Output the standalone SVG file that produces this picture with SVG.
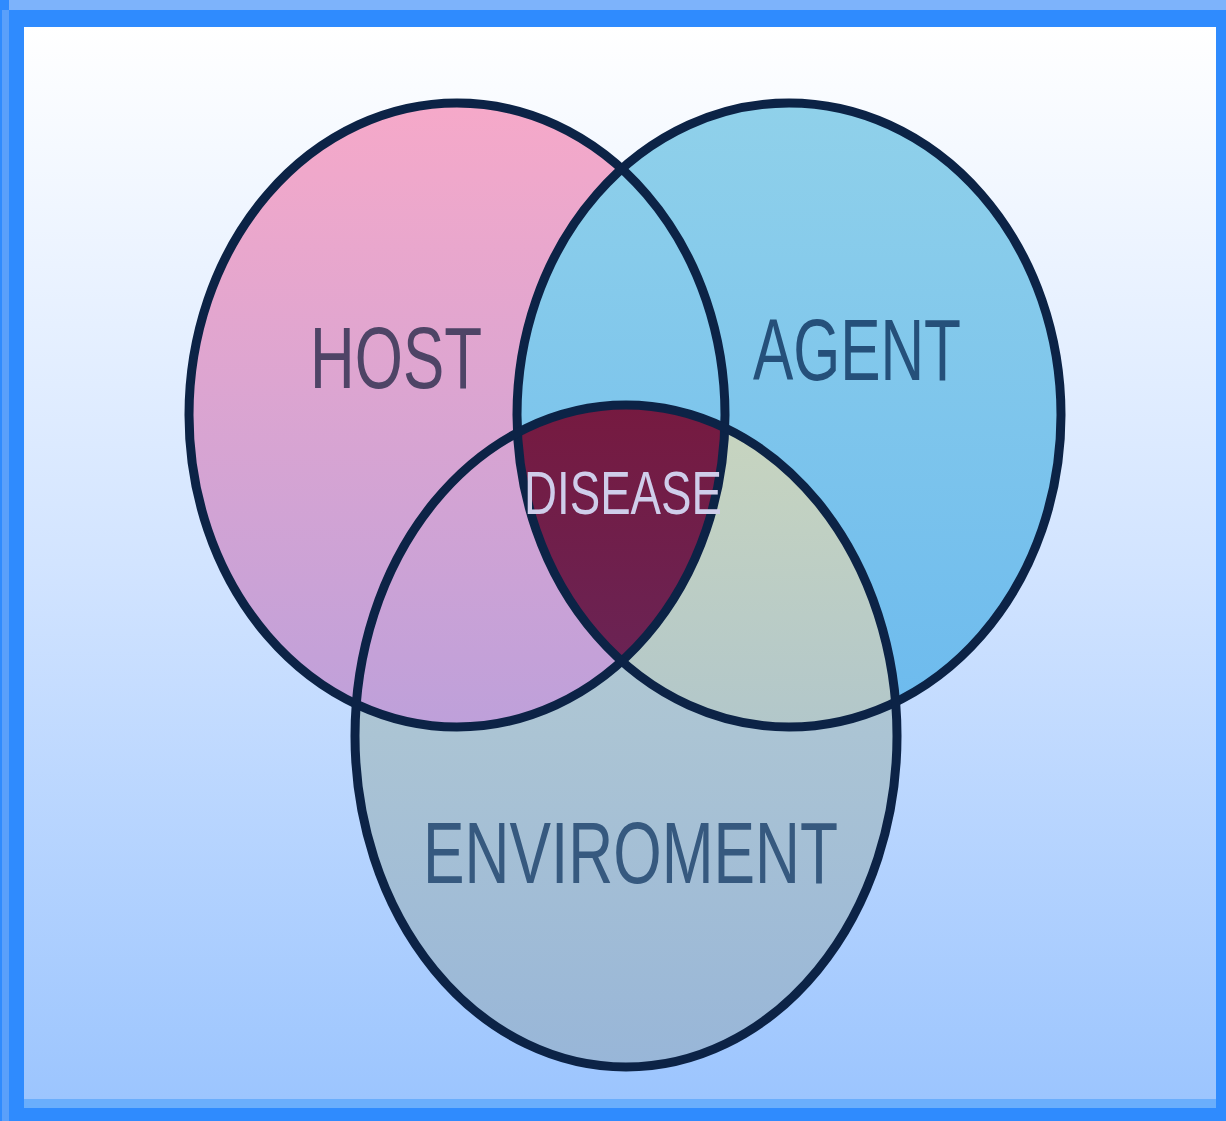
<svg xmlns="http://www.w3.org/2000/svg" width="1226" height="1121" viewBox="0 0 1226 1121">
  <defs>
    <linearGradient id="bg" x1="0" y1="27" x2="0" y2="1099" gradientUnits="userSpaceOnUse">
      <stop offset="0" stop-color="#ffffff"/>
      <stop offset="0.5" stop-color="#d2e4ff"/>
      <stop offset="1" stop-color="#9cc5fe"/>
    </linearGradient>
    <linearGradient id="gHost" x1="0" y1="103" x2="0" y2="726" gradientUnits="userSpaceOnUse">
      <stop offset="0" stop-color="#f6a9c9"/>
      <stop offset="1" stop-color="#bea0da"/>
    </linearGradient>
    <linearGradient id="gAgent" x1="0" y1="103" x2="0" y2="726" gradientUnits="userSpaceOnUse">
      <stop offset="0" stop-color="#90d1ea"/>
      <stop offset="1" stop-color="#6cbaee"/>
    </linearGradient>
    <linearGradient id="gEnv" x1="0" y1="405" x2="0" y2="1066" gradientUnits="userSpaceOnUse">
      <stop offset="0" stop-color="#bed2d0"/>
      <stop offset="1" stop-color="#98b6d8"/>
    </linearGradient>
    <linearGradient id="gAgentEnv" x1="0" y1="420" x2="0" y2="726" gradientUnits="userSpaceOnUse">
      <stop offset="0" stop-color="#c8d5bf"/>
      <stop offset="1" stop-color="#b2c7ca"/>
    </linearGradient>
    <linearGradient id="gDisease" x1="0" y1="405" x2="0" y2="660" gradientUnits="userSpaceOnUse">
      <stop offset="0" stop-color="#761a40"/>
      <stop offset="1" stop-color="#6a2354"/>
    </linearGradient>
    <ellipse id="host" cx="457" cy="415" rx="268" ry="312"/>
    <ellipse id="agent" cx="789" cy="415" rx="272" ry="312"/>
    <ellipse id="env" cx="626" cy="736" rx="271" ry="331"/>
    <clipPath id="clipEnv"><use href="#env"/></clipPath>
    <clipPath id="clipAgent"><use href="#agent"/></clipPath>
    <style>
      .ring { fill: none; stroke: #0c2346; stroke-width: 9; }
      .label { font-family: "Liberation Sans", Arial, sans-serif; }
    </style>
  </defs>

  <!-- frame -->
  <rect x="0" y="0" width="1226" height="1121" fill="#2f8bfe"/>
  <rect x="9" y="0" width="1217" height="10" fill="#7db3fb"/>
  <rect x="2" y="10" width="7" height="1111" fill="#5aa0fb"/>
  <rect x="24" y="27" width="1192" height="1072" fill="url(#bg)"/>
  <rect x="24" y="1099" width="1192" height="9" fill="#6aaefc"/>

  <!-- filled regions -->
  <g id="node-host">
    <use href="#host" fill="url(#gHost)"/>
  </g>
  <g id="node-agent">
    <use href="#agent" fill="url(#gAgent)"/>
  </g>
  <g id="node-environment">
    <use href="#env" fill="url(#gEnv)"/>
    <g clip-path="url(#clipEnv)">
      <use href="#host" fill="url(#gHost)"/>
      <use href="#agent" fill="url(#gAgentEnv)"/>
    </g>
  </g>
  <g id="node-disease">
    <g clip-path="url(#clipEnv)">
      <use href="#host" fill="url(#gDisease)" clip-path="url(#clipAgent)"/>
    </g>
  </g>

  <!-- outlines -->
  <g id="outlines">
    <use href="#host" class="ring"/>
    <use href="#agent" class="ring"/>
    <use href="#env" class="ring"/>
  </g>

  <!-- labels -->
  <g class="label">
    <text x="310" y="388" font-size="88" fill="#4e4466" textLength="172" lengthAdjust="spacingAndGlyphs">HOST</text>
    <text x="753" y="380" font-size="88" fill="#25507a" textLength="208" lengthAdjust="spacingAndGlyphs">AGENT</text>
    <text x="423" y="883" font-size="88" fill="#36597f" textLength="415" lengthAdjust="spacingAndGlyphs">ENVIROMENT</text>
    <text x="524" y="514" font-size="62" fill="#cfcdea" textLength="198" lengthAdjust="spacingAndGlyphs">DISEASE</text>
  </g>
</svg>
